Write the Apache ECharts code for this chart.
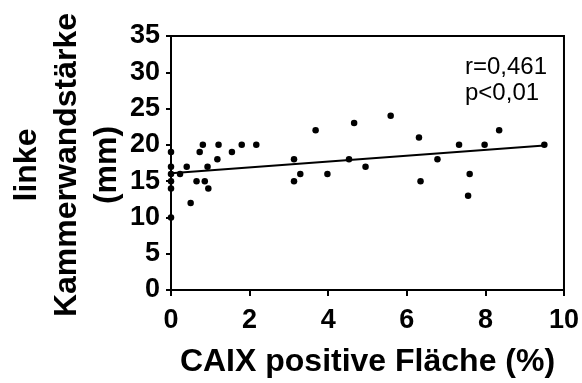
<!DOCTYPE html>
<html>
<head>
<meta charset="utf-8">
<script src="https://cdn.jsdelivr.net/npm/echarts@6/dist/echarts.min.js"></script>
<style>
html,body{margin:0;padding:0;background:#fff;}
#chart{width:582px;height:383px;}
</style>
</head>
<body>
<div id="chart"></div>
<script>
// Data
var caixArea = [0, 0, 0, 0, 0, 0, 0.23, 0.4, 0.5, 0.65, 0.73, 0.81, 0.86, 0.93, 0.95, 1.18, 1.21, 1.55, 1.8, 2.17,
                3.13, 3.13, 3.29, 3.68, 3.98, 4.53, 4.66, 4.95, 5.59, 6.31, 6.35, 6.78, 7.33, 7.56, 7.6, 7.98, 8.35, 9.5];
var wallThickness = [19, 17, 16, 15, 14, 10, 16, 17, 12, 15, 19, 20, 15, 17, 14, 18, 20, 19, 20, 20,
                     18, 15, 16, 22, 16, 18, 23, 17, 24, 21, 15, 18, 20, 13, 16, 20, 22, 20];
var fitX = [0, 9.5];
var fitY = [16.1, 19.9];
var xTicks = [0, 2, 4, 6, 8, 10];
var yTicks = [0, 5, 10, 15, 20, 25, 30, 35];
var xTitle = 'CAIX positive Fläche (%)';
var yTitle = 'linke\nKammerwandstärke\n(mm)';
var statText = ['r=0,461', 'p<0,01'];

var points = caixArea.map(function (x, i) { return [x, wallThickness[i]]; });
var fitLine = fitX.map(function (x, i) { return [x, fitY[i]]; });

var FONT = '"Liberation Sans", Arial, Helvetica, sans-serif';
var chart = echarts.init(document.getElementById('chart'), null, {renderer: 'canvas'});
chart.setOption({
  animation: false,
  backgroundColor: '#fff',
  grid: {left: 171, right: 17, top: 36, bottom: 86, show: true, borderColor: '#000', borderWidth: 2, backgroundColor: 'transparent'},
  xAxis: {
    type: 'value', min: xTicks[0], max: xTicks[xTicks.length - 1], interval: xTicks[1] - xTicks[0],
    name: xTitle, nameLocation: 'middle', nameGap: 56,
    nameTextStyle: {fontFamily: FONT, fontWeight: 'bold', fontSize: 32, color: '#000'},
    axisLine: {show: true, lineStyle: {color: '#000', width: 2}},
    axisTick: {show: true, length: 6, lineStyle: {color: '#000', width: 2}},
    axisLabel: {margin: 17, fontFamily: FONT, fontWeight: 'bold', fontSize: 27, color: '#000'},
    splitLine: {show: false}
  },
  yAxis: {
    type: 'value', min: yTicks[0], max: yTicks[yTicks.length - 1], interval: yTicks[1] - yTicks[0],
    axisLine: {show: true, lineStyle: {color: '#000', width: 2}},
    axisTick: {show: true, length: 5, lineStyle: {color: '#000', width: 2}},
    axisLabel: {margin: 11, fontFamily: FONT, fontWeight: 'bold', fontSize: 27, color: '#000'},
    splitLine: {show: false}
  },
  graphic: [
    {type: 'text', x: 67, y: 165, rotation: Math.PI / 2,
     style: {text: yTitle, font: 'bold 32px ' + FONT, fill: '#000', align: 'center', verticalAlign: 'middle', lineHeight: 40}},
    {type: 'text', x: 465, y: 67, style: {text: statText[0], font: '24px ' + FONT, fill: '#000', align: 'left', verticalAlign: 'middle'}},
    {type: 'text', x: 465, y: 93, style: {text: statText[1], font: '24px ' + FONT, fill: '#000', align: 'left', verticalAlign: 'middle'}}
  ],
  series: [
    {type: 'line', data: fitLine, symbol: 'none', lineStyle: {color: '#000', width: 2}, z: 2},
    {type: 'scatter', data: points, symbol: 'circle', symbolSize: 6.5, itemStyle: {color: '#000', opacity: 1}, z: 3}
  ]
});
</script>
</body>
</html>
